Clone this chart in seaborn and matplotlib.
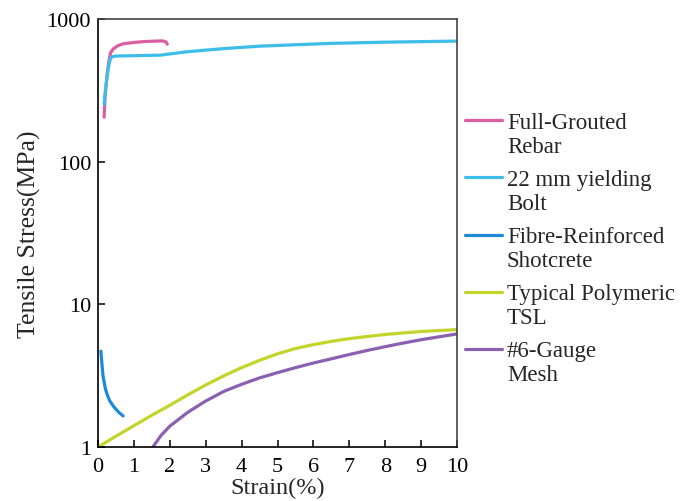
import matplotlib
matplotlib.use("Agg")
import matplotlib.pyplot as plt
import seaborn as sns
import pandas as pd
from matplotlib.ticker import FixedLocator, FixedFormatter, NullLocator

sns.set_theme(style="white")
plt.rcParams['font.family'] = ['Liberation Serif', 'DejaVu Serif']

labels = ["Full-Grouted\nRebar", "22 mm yielding\nBolt", "Fibre-Reinforced\nShotcrete",
          "Typical Polymeric\nTSL", "#6-Gauge\nMesh"]
colors = ["#db5fa0", "#3dbde9", "#1c8ad9", "#c4d42b", "#8b5fb1"]

rebar_x = [0.17, 0.2, 0.25, 0.3, 0.35, 0.42, 0.55, 0.7, 1.0, 1.3, 1.6, 1.81, 1.9, 1.93]
rebar_y = [205, 290, 400, 500, 580, 615, 650, 670, 685, 695, 700, 702, 690, 665]

bolt_x = [0.17, 0.22, 0.28, 0.33, 0.37, 0.47, 1.0, 1.73, 2.5, 3.5, 4.5, 5.5, 6.5, 8.0, 9.0, 10.0]
bolt_y = [253, 340, 440, 510, 540, 550, 553, 558, 590, 620, 645, 660, 675, 688, 694, 700]

fibre_x = [0.08, 0.11, 0.14, 0.2, 0.25, 0.33, 0.45, 0.58, 0.7]
fibre_y = [4.7, 3.8, 3.15, 2.6, 2.35, 2.1, 1.9, 1.75, 1.65]

tsl_x = [0, 0.5, 1, 1.5, 2, 2.5, 3, 3.5, 4, 4.5, 5, 5.5, 6, 6.5, 7, 7.5, 8, 8.5, 9, 9.5, 10]
tsl_y = [1.0, 1.19, 1.41, 1.67, 1.96, 2.32, 2.72, 3.15, 3.6, 4.05, 4.5, 4.9, 5.22, 5.5, 5.75,
         5.95, 6.15, 6.3, 6.45, 6.55, 6.65]

mesh_x = [1.53, 1.75, 2, 2.5, 3, 3.5, 4, 4.5, 5, 5.5, 6, 6.5, 7, 7.5, 8, 8.5, 9, 9.5, 10]
mesh_y = [1.0, 1.2, 1.4, 1.75, 2.1, 2.45, 2.75, 3.05, 3.32, 3.6, 3.88, 4.15, 4.45, 4.75, 5.05,
          5.35, 5.65, 5.92, 6.2]

series = [(rebar_x, rebar_y), (bolt_x, bolt_y), (fibre_x, fibre_y), (tsl_x, tsl_y), (mesh_x, mesh_y)]

fig = plt.figure(figsize=(6.9, 5.02), dpi=100)
ax = fig.add_axes([98/690, 54/502, 359/690, 428/502])

for (xs, ys), lab, col in zip(series, labels, colors):
    df = pd.DataFrame({"x": xs, "y": ys})
    sns.lineplot(data=df, x="x", y="y", ax=ax, color=col, lw=2.3, label=lab,
                 sort=False, estimator=None)

ax.set_yscale("log")
ax.set_xlim(0, 10)
ax.set_ylim(1, 1000)
ax.set_xticks(range(0, 11))
ax.yaxis.set_major_locator(FixedLocator([1, 10, 100, 1000]))
ax.yaxis.set_major_formatter(FixedFormatter(["1", "10", "100", "1000"]))
ax.yaxis.set_minor_locator(NullLocator())
ax.tick_params(axis="both", direction="in", length=5, width=1.1, labelsize=16,
               colors="black", left=True, bottom=True)
ax.tick_params(axis="x", pad=7)
ax.tick_params(axis="y", pad=5)
ax.set_xlabel("Strain(%)", fontsize=17.5, labelpad=0.5)
ax.set_ylabel("Tensile Stress(MPa)", fontsize=18.5)
ax.yaxis.set_label_coords(-0.158, 0.5)
for s in ax.spines.values():
    s.set_color("black")
    s.set_linewidth(1.2)
ax.spines["top"].set_color("#444444")
ax.spines["right"].set_color("#444444")

leg = ax.legend(loc="upper left", bbox_to_anchor=(0.997, 0.805), frameon=False, fontsize=16.5,
                handlelength=1.6, handletextpad=0.22, labelspacing=0.52, borderaxespad=0,
                handleheight=0.9)
for line in leg.get_lines():
    line.set_linewidth(2.3)
for col in leg._legend_handle_box.get_children():
    for item in col.get_children():
        item.align = "top"

fig.savefig("out.png", dpi=100)
